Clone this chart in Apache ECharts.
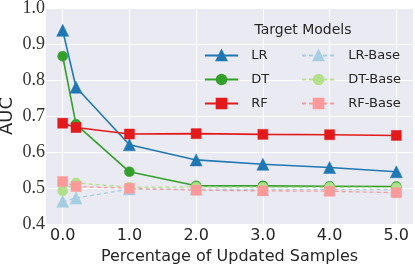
<!DOCTYPE html>
<html>
<head>
<meta charset="utf-8">
<script src="https://cdn.jsdelivr.net/npm/echarts@6/dist/echarts.min.js"></script>
<style>
html,body{margin:0;padding:0;background:#fff;}
#c{width:415px;height:264px;}
</style>
</head>
<body>
<div id="c"></div>
<script>
const xs = [0, 0.2, 1, 2, 3, 4, 5];
const xTicks = [0, 1, 2, 3, 4, 5];
const lr = [0.938, 0.780, 0.620, 0.578, 0.566, 0.557, 0.545];
const dt = [0.866, 0.677, 0.545, 0.506, 0.506, 0.505, 0.504];
const rf = [0.680, 0.668, 0.650, 0.651, 0.649, 0.648, 0.646];
const lrBase = [0.463, 0.472, 0.497, 0.497, 0.496, 0.496, 0.495];
const dtBase = [0.492, 0.514, 0.502, 0.503, 0.502, 0.502, 0.501];
const rfBase = [0.518, 0.504, 0.499, 0.494, 0.492, 0.491, 0.487];
const seriesNames = ['LR', 'DT', 'RF', 'LR-Base', 'DT-Base', 'RF-Base'];

const pairs = v => xs.map((x, i) => [x, v[i]]);
const textColor = '#262626';
const sans = 'DejaVu Sans';

function mk(name, vals, color, symbol, size, dashed) {
  return {
    name, type: 'line', data: pairs(vals),
    symbol, symbolSize: size,
    lineStyle: {color, width: dashed ? 1.3 : 1.6, type: dashed ? [4, 3] : 'solid'},
    itemStyle: {color, borderColor: color, borderWidth: 0.5, opacity: 1},
    z: 3
  };
}

const series = [
  mk('LR', lr, '#1f78b4', 'triangle', 12, false),
  mk('DT', dt, '#33a02c', 'circle', 10, false),
  mk('RF', rf, '#e31a1c', 'rect', 10, false),
  mk('LR-Base', lrBase, '#a6cee3', 'triangle', 12, true),
  mk('DT-Base', dtBase, '#b2df8a', 'circle', 10, true),
  mk('RF-Base', rfBase, '#fb9a99', 'rect', 10, true)
];
// vertical grid lines at tick positions
series.push({
  type: 'line', data: [], silent: true, z: 1,
  markLine: {
    silent: true, symbol: 'none', label: {show: false}, z: 1,
    lineStyle: {color: '#ffffff', width: 1, type: 'solid'},
    emphasis: {disabled: true},
    data: xTicks.map(v => ({xAxis: v}))
  }
});

const legendCommon = {
  orient: 'vertical', top: 49, padding: 0,
  itemWidth: 33, itemHeight: 12, itemGap: 11,
  formatter: n => '  ' + n,
  textStyle: {fontFamily: sans, fontSize: 13, color: textColor},
  selectedMode: false, z: 10
};

const chart = echarts.init(document.getElementById('c'), null, {renderer: 'canvas'});
chart.setOption({
  animation: false,
  backgroundColor: '#ffffff',
  grid: {left: 46, right: 2, top: 8, bottom: 40, show: true, backgroundColor: '#eaeaf2', borderWidth: 0,
    containLabel: false, outerBoundsMode: 'none'},
  xAxis: {
    type: 'value', min: -0.25, max: 5.25,
    name: 'Percentage of Updated Samples', nameLocation: 'middle', nameGap: 25, nameMoveOverlap: false,
    nameTextStyle: {fontFamily: sans, fontSize: 16, color: textColor},
    axisLine: {show: false}, axisTick: {show: false},
    splitLine: {show: false},
    axisLabel: {
      customValues: xTicks, fontFamily: sans, fontSize: 16, color: textColor, margin: 4,
      formatter: v => v.toFixed(1)
    }
  },
  yAxis: {
    type: 'value', min: 0.4, max: 1.0, interval: 0.1,
    name: 'AUC', nameLocation: 'middle', nameGap: 30, nameRotate: 90, nameMoveOverlap: false,
    nameTextStyle: {fontFamily: sans, fontSize: 18, color: textColor},
    axisLine: {show: false}, axisTick: {show: false},
    splitLine: {show: true, lineStyle: {color: '#ffffff', width: 1}},
    axisLabel: {fontFamily: 'Liberation Serif', fontSize: 18, color: '#333333', margin: 1,
      formatter: v => v.toFixed(1)}
  },
  title: {
    text: 'Target Models', left: 303, top: 23, padding: 0, textAlign: 'center',
    textStyle: {fontFamily: sans, fontSize: 14, fontWeight: 'normal', color: textColor}
  },
  legend: [
    Object.assign({data: seriesNames.slice(0, 3), left: 204}, legendCommon),
    Object.assign({data: seriesNames.slice(3), left: 301}, legendCommon)
  ],
  series
});
</script>
</body>
</html>
